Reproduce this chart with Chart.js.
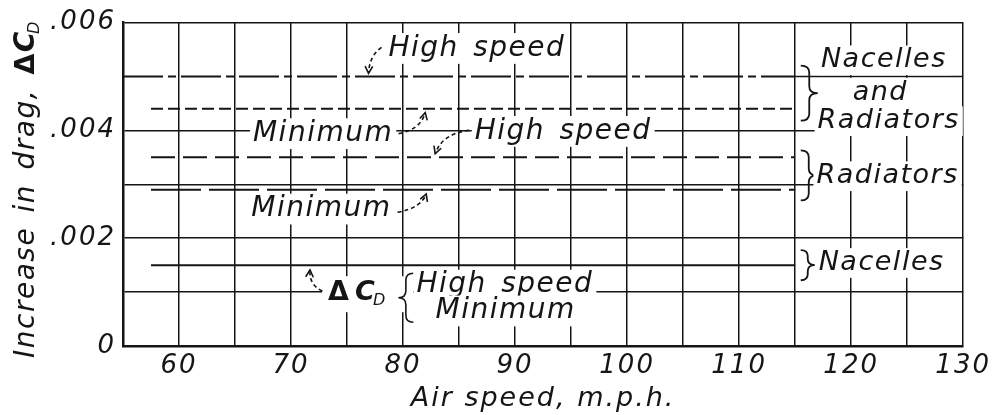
<!DOCTYPE html>
<html>
<head>
<meta charset="utf-8">
<script src="https://cdn.jsdelivr.net/npm/chart.js@4.4.1/dist/chart.umd.min.js"></script>
<style>
    html, body { margin: 0; padding: 0; background: #fff; }
    #wrap { width: 993px; height: 415px; }
</style>
</head>
<body>
<div id="wrap"><canvas id="dragChart" width="993" height="415"></canvas></div>
<script>
'use strict';

// air speed (m.p.h.) where each drawn line starts and stops
const speedsTopLine = [55, 115];
const speeds = [57.5, 115];

// increase in drag coefficient, delta C_D
const nacRadHighSpeed = [0.005, 0.005];
const nacRadMinimum = [0.0044, 0.0044];
const radHighSpeed = [0.0035, 0.0035];
const radMinimum = [0.0029, 0.0029];
const nacelles = [0.0015, 0.0015];

const xTicks = [60, 70, 80, 90, 100, 110, 120, 130];
const yTickLabels = { 0: '0', 2: '.002', 4: '.004', 6: '.006' };

const ink = '#151515';
const font = '"DejaVu Sans", sans-serif';

function toPoints(xs, ys) {
    return xs.map((x, i) => ({ x: x, y: ys[i] }));
}

function lineSet(label, xs, ys, dash) {
    return {
        label: label,
        data: toPoints(xs, ys),
        borderColor: ink,
        borderWidth: 2,
        borderDash: dash,
        pointRadius: 0,
        fill: false
    };
}

// little helpers for the hand lettering on the chart
function textAt(ctx, text, x, y, size) {
    ctx.font = 'italic ' + size + 'px ' + font;
    const w = ctx.measureText(text).width;
    let left = x;
    if (ctx.textAlign === 'center') left = x - w / 2;
    ctx.fillStyle = '#fff';
    ctx.fillRect(left - 3, y - size * 0.55, w + 6, size * 1.1);
    ctx.fillStyle = ink;
    ctx.fillText(text, x, y);
    return w;
}

function brace(ctx, x, y1, y2, w) {
    const ym = (y1 + y2) / 2;
    const r = Math.min(7, (y2 - y1) / 5);
    ctx.beginPath();
    ctx.moveTo(x, y1);
    ctx.quadraticCurveTo(x + w, y1, x + w, y1 + r);
    ctx.lineTo(x + w, ym - r);
    ctx.quadraticCurveTo(x + w, ym, x + 2 * w, ym);
    ctx.quadraticCurveTo(x + w, ym, x + w, ym + r);
    ctx.lineTo(x + w, y2 - r);
    ctx.quadraticCurveTo(x + w, y2, x, y2);
    ctx.stroke();
}

function arrow(ctx, a, c, b) {
    ctx.save();
    ctx.setLineDash([4, 3]);
    ctx.beginPath();
    ctx.moveTo(a[0], a[1]);
    ctx.quadraticCurveTo(c[0], c[1], b[0], b[1]);
    ctx.stroke();
    ctx.setLineDash([]);
    const ang = Math.atan2(b[1] - c[1], b[0] - c[0]);
    ctx.beginPath();
    ctx.moveTo(b[0] - 8 * Math.cos(ang - 0.5), b[1] - 8 * Math.sin(ang - 0.5));
    ctx.lineTo(b[0], b[1]);
    ctx.lineTo(b[0] - 8 * Math.cos(ang + 0.5), b[1] - 8 * Math.sin(ang + 0.5));
    ctx.stroke();
    ctx.restore();
}

const lettering = {
    id: 'lettering',
    beforeDraw(chart) {
        chart.ctx.letterSpacing = '2px';
    },
    afterDatasetsDraw(chart) {
        const ctx = chart.ctx;
        const xs = chart.scales.x;
        const ys = chart.scales.y;
        const P = (v, d) => [xs.getPixelForValue(v), ys.getPixelForValue(d)];
        ctx.save();
        ctx.letterSpacing = '1.5px';
        ctx.wordSpacing = '4px';
        ctx.textBaseline = 'middle';
        ctx.textAlign = 'left';
        ctx.strokeStyle = ink;
        ctx.lineWidth = 1.6;

        // the .005 grid line only shows past the end of the curves
        ctx.beginPath();
        ctx.moveTo(xs.getPixelForValue(115), ys.getPixelForValue(0.005));
        ctx.lineTo(xs.getPixelForValue(130), ys.getPixelForValue(0.005));
        ctx.stroke();

        let p = P(78.7, 0.00552);
        textAt(ctx, 'High speed', p[0], p[1], 28);
        arrow(ctx, P(78.08, 0.00554), P(77.0, 0.00539), P(76.92, 0.00506));

        p = P(66.6, 0.00394);
        textAt(ctx, 'Minimum', p[0], p[1], 28);
        arrow(ctx, P(79.6, 0.00394), P(81.6, 0.00402), P(81.98, 0.00433));

        p = P(86.4, 0.00398);
        textAt(ctx, 'High speed', p[0], p[1], 28);
        arrow(ctx, P(85.9, 0.00400), P(83.5, 0.00394), P(82.87, 0.00357));

        p = P(66.45, 0.00254);
        textAt(ctx, 'Minimum', p[0], p[1], 28);
        arrow(ctx, P(79.5, 0.00248), P(81.6, 0.00256), P(82.07, 0.00282));

        // delta C_D { High speed / Minimum
        p = P(73.3, 0.00098);
        let a = P(80.92, 0.00135);
        let b = P(80.92, 0.00044);
        ctx.fillStyle = '#fff';
        ctx.fillRect(p[0] - 6, p[1] - 17, a[0] - p[0] + 6, 36);
        ctx.fillStyle = ink;
        ctx.font = 'bold 27px ' + font;
        ctx.fillText('\u0394', p[0], p[1]);
        ctx.font = 'italic bold 27px ' + font;
        ctx.fillText('C', p[0] + 27, p[1]);
        ctx.font = 'italic 16px ' + font;
        ctx.fillText('D', p[0] + 45, p[1] + 8);
        arrow(ctx, P(72.8, 0.00102), P(71.6, 0.00113), P(71.69, 0.00141));
        brace(ctx, a[0], a[1], b[1], -7.5);
        p = P(81.2, 0.00113);
        textAt(ctx, 'High speed', p[0], p[1], 28);
        p = P(82.9, 0.00065);
        textAt(ctx, 'Minimum', p[0], p[1], 28);

        // group names at the right
        ctx.lineWidth = 1.8;
        a = P(115.5, 0.00520);
        b = P(115.5, 0.00418);
        brace(ctx, a[0], a[1], b[1], 8.5);
        p = P(117.3, 0.00530);
        textAt(ctx, 'Nacelles', p[0], p[1], 27);
        ctx.textAlign = 'center';
        p = P(122.6, 0.00470);
        textAt(ctx, 'and', p[0], p[1], 27);
        ctx.textAlign = 'left';
        p = P(117.0, 0.00417);
        textAt(ctx, 'Radiators', p[0], p[1], 27);

        a = P(115.5, 0.00363);
        b = P(115.5, 0.00270);
        brace(ctx, a[0], a[1], b[1], 8);
        p = P(116.9, 0.00315);
        textAt(ctx, 'Radiators', p[0], p[1], 27);

        a = P(115.5, 0.00178);
        b = P(115.5, 0.00122);
        brace(ctx, a[0], a[1], b[1], 7);
        p = P(117.1, 0.00154);
        textAt(ctx, 'Nacelles', p[0], p[1], 27);

        // y axis title, with the subscript D
        ctx.translate(34, 358);
        ctx.rotate(-Math.PI / 2);
        ctx.textBaseline = 'alphabetic';
        ctx.fillStyle = ink;
        ctx.letterSpacing = '1.5px';
        ctx.font = 'italic 28px ' + font;
        const t = 'Increase in drag, ';
        ctx.fillText(t, 0, 0);
        let w = ctx.measureText(t).width;
        ctx.font = 'bold 27px ' + font;
        ctx.fillText('\u0394', w, 0);
        w += ctx.measureText('\u0394').width;
        ctx.font = 'italic bold 28px ' + font;
        ctx.fillText('C', w, 0);
        w += ctx.measureText('C').width - 4;
        ctx.font = 'italic 16px ' + font;
        ctx.fillText('D', w, 5);
        ctx.restore();
    }
};

const canvasEl = document.getElementById('dragChart');

const chartObj = new Chart(canvasEl, {
    type: 'line',
    data: {
        datasets: [
            lineSet('Nacelles and radiators, high speed', speedsTopLine, nacRadHighSpeed, [40, 5, 8, 5]),
            lineSet('Nacelles and radiators, minimum', speeds, nacRadMinimum, [12, 5]),
            lineSet('Radiators, high speed', speeds, radHighSpeed, [24, 8]),
            lineSet('Radiators, minimum', speeds, radMinimum, [50, 8]),
            lineSet('Nacelles', speeds, nacelles, [])
        ]
    },
    options: {
        responsive: false,
        animation: false,
        layout: { padding: { top: 22, right: 25, left: 0, bottom: 0 } },
        plugins: {
            legend: { display: false },
            tooltip: { enabled: false }
        },
        scales: {
            x: {
                type: 'linear',
                min: 55,
                max: 130,
                afterFit(scale) { scale.height = 69; },
                ticks: {
                    stepSize: 5,
                    autoSkip: false,
                    maxRotation: 0,
                    padding: 5,
                    color: ink,
                    font: { family: font, size: 26, style: 'italic' },
                    callback: v => xTicks.includes(v) ? String(v) : ''
                },
                grid: { color: ink, lineWidth: 1.5, drawTicks: false },
                border: { color: ink, width: 2.5 },
                title: {
                    display: true,
                    text: 'Air speed, m.p.h.',
                    color: ink,
                    font: { family: font, size: 27, style: 'italic' },
                    padding: { top: 0, bottom: 0 }
                }
            },
            y: {
                min: 0,
                max: 0.006,
                afterFit(scale) { scale.width = 123; },
                ticks: {
                    stepSize: 0.001,
                    padding: 7,
                    color: ink,
                    font: { family: font, size: 26, style: 'italic' },
                    callback: v => {
                        const k = Math.round(v * 1000);
                        return yTickLabels[k] !== undefined ? yTickLabels[k] : '';
                    }
                },
                grid: {
                    lineWidth: 1.5,
                    drawTicks: false,
                    color: c => Math.abs(c.tick.value - 0.005) < 1e-9 ? 'rgba(0,0,0,0)' : ink
                },
                border: { color: ink, width: 2.5 }
            }
        }
    },
    plugins: [lettering]
});
</script>
</body>
</html>
